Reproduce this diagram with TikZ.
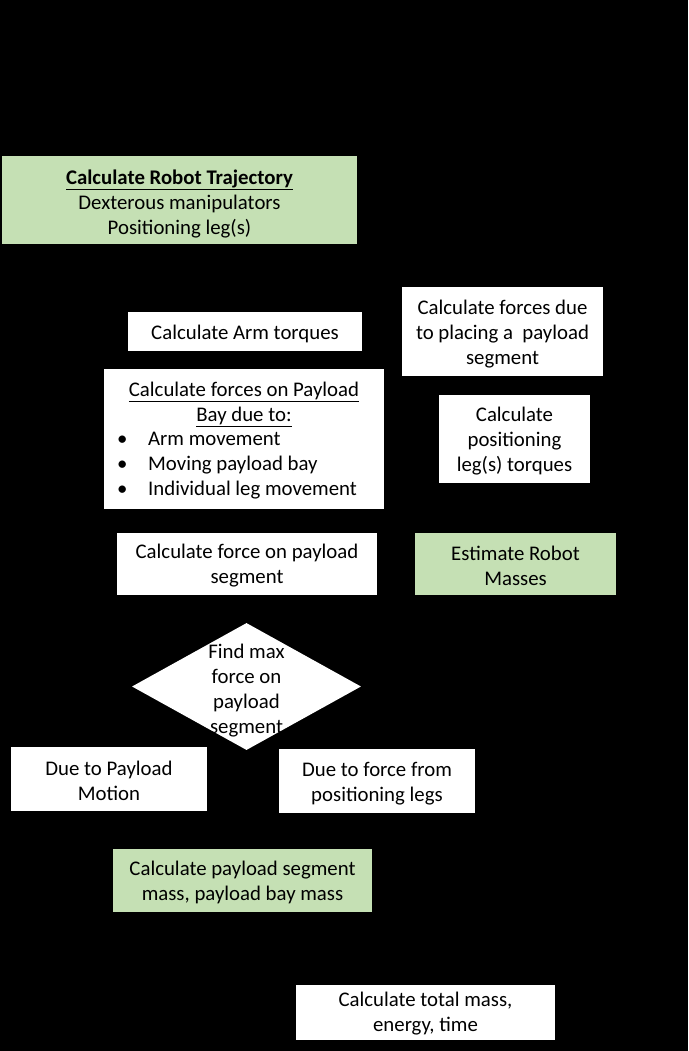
\documentclass[tikz,border=0pt]{standalone}
\usepackage{fontspec}
\setmainfont{Carlito}
\usetikzlibrary{shapes.geometric}
\definecolor{lgreen}{HTML}{C5E0B4}
\tikzset{
  box/.style={fill=white, draw=none, inner sep=0pt, align=center,
    font=\fontsize{20.8}{25}\selectfont},
  gbox/.style={box, fill=lgreen},
  txt/.style={inner sep=0pt, align=center, font=\fontsize{20.8}{25}\selectfont}
}
\begin{document}
\begin{tikzpicture}[x=1pt,y=-1pt]
\fill[black] (0,0) rectangle (688,1051);
\useasboundingbox (0,0) rectangle (688,1051);

\node[gbox, minimum width=355pt, minimum height=88pt] (traj) at (179.5,200) {};
\node[txt] (trajt) at (179.5,203.5) {\underline{\textbf{Calculate Robot Trajectory}}\\Dexterous manipulators\\Positioning leg(s)};

\node[box, minimum width=234pt, minimum height=39pt] (arm) at (245,331.5) {};
\node[txt] (armt) at (245,334) {Calculate Arm torques};

\node[box, minimum width=201pt, minimum height=89pt] (place) at (502.5,331.5) {};
\node[txt] (placet) at (502.5,334) {Calculate forces due\\to placing a\ \ payload\\segment};

\node[box, minimum width=280pt, minimum height=140pt] (bay) at (244,439) {};
\node[txt] (bayh) at (244,404) {\underline{Calculate forces on Payload}\\\underline{Bay due to:}};
\node[txt, align=left, anchor=west] (bayl) at (117,466)
  {\makebox[31pt][l]{•}Arm movement\\\makebox[31pt][l]{•}Moving payload bay\\\makebox[31pt][l]{•}Individual leg movement};

\node[box, minimum width=151pt, minimum height=88pt] (legt) at (514.5,439) {};
\node[txt] (legtt) at (514.5,441.5) {Calculate\\positioning\\leg(s) torques};

\node[box, minimum width=260pt, minimum height=62pt] (seg) at (247,564) {};
\node[txt] (segt) at (247,566) {Calculate force on payload\\segment};

\node[gbox, minimum width=201pt, minimum height=62pt] (mass) at (515.5,564) {};
\node[txt] (masst) at (515.5,566) {Estimate Robot\\Masses};

\node[diamond, fill=white, draw=none, inner sep=0pt, minimum width=229pt, minimum height=127pt] (dia) at (246.5,686.5) {};
\node[txt] (diat) at (246.5,690.5) {Find max\\force on\\payload\\segment};

\node[box, minimum width=196pt, minimum height=64pt] (motion) at (109,779) {};
\node[txt] (motiont) at (109,781) {Due to Payload\\Motion};

\node[box, minimum width=196pt, minimum height=64pt] (legs) at (377,781) {};
\node[txt] (legst) at (377,783.5) {Due to force from\\positioning legs};

\node[gbox, minimum width=259pt, minimum height=63pt] (pmass) at (242.5,880.5) {};
\node[txt] (pmasst) at (242.5,882) {Calculate payload segment\\mass, payload bay mass};

\node[box, minimum width=259pt, minimum height=55pt] (total) at (425.5,1012.5) {};
\node[txt] (totalt) at (425.5,1014) {Calculate total mass,\\energy, time};
\end{tikzpicture}
\end{document}
